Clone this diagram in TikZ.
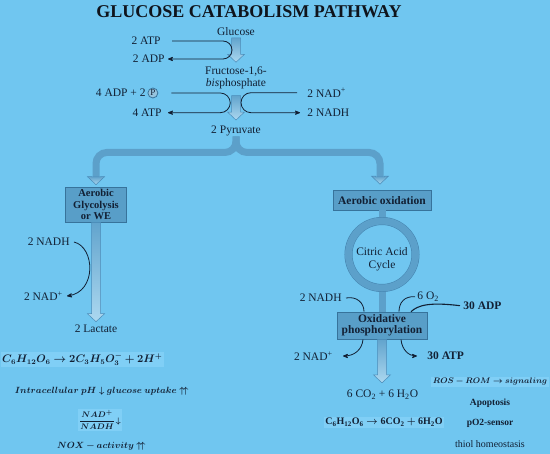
\documentclass[tikz,border=0pt]{standalone}
\usepackage{fontspec}
\setmainfont{Liberation Serif}
\usepackage{amsmath}
\usepackage{bm}
\usetikzlibrary{arrows,calc,positioning}

\definecolor{bgblue}{RGB}{112,198,240}
\definecolor{inkcol}{RGB}{18,32,52}
\definecolor{titlecol}{RGB}{15,20,28}
\definecolor{bandcol}{RGB}{92,160,202}
\definecolor{bandedge}{RGB}{68,132,175}
\definecolor{boxfill}{RGB}{88,158,200}
\definecolor{boxedge}{RGB}{55,115,155}
\definecolor{shafttop}{RGB}{98,164,205}
\definecolor{shaftbot}{RGB}{172,216,240}
\definecolor{shaftedge}{RGB}{75,140,185}
\definecolor{hlblue}{RGB}{128,207,246}
\definecolor{pfill}{RGB}{150,196,222}

\begin{document}
\begin{tikzpicture}[x=1pt,y=-1pt,>=stealth',thick,color=inkcol,node distance=20.7pt,
  lbl/.style={text=inkcol,inner sep=1pt,font=\fontsize{11.5}{13}\selectfont},
  procbox/.style={draw=boxedge,fill=boxfill,line width=0.8pt,text=inkcol,align=center,inner sep=1pt,
    font=\bfseries\fontsize{11.5}{11}\selectfont},
  pcirc/.style={circle,draw=boxedge,fill=pfill,inner sep=0.8pt,text=inkcol,font=\fontsize{9}{9}\selectfont},
  band/.style={draw=bandcol,line width=7pt},
  shaft/.style={draw=shaftedge,line width=0.5pt,top color=shafttop,bottom color=shaftbot,
    to path={let \p1=(\tikztostart),\p2=(\tikztotarget) in
      (\x1-4.5pt,\y1) -- (\x1-4.5pt,\y2+8pt) -- (\x1-8.5pt,\y2+8pt) -- (\x1,\y2)
      -- (\x1+8.5pt,\y2+8pt) -- (\x1+4.5pt,\y2+8pt) -- (\x1+4.5pt,\y1) -- cycle}},
  hl/.style={fill=hlblue,inner sep=1.5pt},
  ring/.style={circle,draw=bandedge,double=bandcol,double distance=7pt,line width=0.5pt,
    minimum size=67pt,outer sep=4pt}]

\useasboundingbox (0,0) rectangle (550,454);
\fill[bgblue] (0,0) rectangle (550,454);

\node[lbl,font=\bfseries\fontsize{18}{20}\selectfont,text=titlecol] (title) at (249,12) {GLUCOSE CATABOLISM PATHWAY};

% glycolysis
\node[lbl] (glc) at (236,31.5) {Glucose};
\node[lbl,anchor=east] (atpin) at (162,41) {2 ATP};
\node[lbl,anchor=east] (adpout) at (166,59) {2 ADP};
\node[lbl,align=center,font=\fontsize{11.5}{12.6}\selectfont] (fbp) at (236,78) {Fructose-1,6-\\\textit{bis}phosphate};
\node[lbl,anchor=east] (adpin) at (147,93) {4 ADP + 2};
\node[pcirc,right=0.5pt of adpin] (pgrp) {P};
\node[lbl,anchor=east] (atpout) at (163,112.7) {4 ATP};
\node[lbl,anchor=west] (nadin) at (306,92.7) {2 NAD\textsuperscript{+}};
\node[lbl,anchor=west] (nadhout) at (306,112.7) {2 NADH};
\node[lbl] (pyr) at (236,131) {2 Pyruvate};

\draw[shaft] ([yshift=-1pt]glc.south) to ([yshift=3pt]fbp.north);
\draw[shaft] ([yshift=-5pt]fbp.south) to ([yshift=4.5pt]pyr.north);

\draw[->,rounded corners=9pt] ([xshift=10pt]atpin.east) -- ++(60,0) |- ([xshift=2pt]adpout.east);
\draw[->,rounded corners=10pt] ([xshift=13pt]pgrp.east) -- ++(59,0) |- ([xshift=5pt]atpout.east);
\draw[->,rounded corners=10pt] ([xshift=-9pt]nadin.west) -- ++(-56,0) |- ([xshift=-6pt]nadhout.west);

% branches
\node[procbox,font=\bfseries\fontsize{10.5}{11.2}\selectfont,minimum width=61pt,minimum height=35pt] (glybox) at (96,204.6) {Aerobic\\Glycolysis\\or WE};
\node[procbox,minimum width=98pt,minimum height=19.5pt] (oxbox) at (382,200.3) {Aerobic oxidation};

\coordinate (forkL) at (96,177);
\coordinate (forkR) at (380,177);
\draw[band,rounded corners=11pt] ([yshift=1pt]pyr.south) -- ++(0,16) -| (forkL);
\draw[band,rounded corners=11pt] ([yshift=1pt]pyr.south) -- ++(0,16) -| (forkR);
\draw[shaft] (forkL) to ([yshift=2pt]glybox.north);
\draw[shaft] (forkR) to ([yshift=6pt]oxbox.north);

% anaerobic side
\node[lbl,anchor=east] (nadhL) at (71,242) {2 NADH};
\node[lbl,anchor=east] (nadL) at (64,296) {2 NAD\textsuperscript{+}};
\node[lbl] (lac) at (96,329) {2 Lactate};
\draw[shaft] (glybox.south) to ([yshift=2pt]lac.north);
\draw[->] ([xshift=3pt]nadhL.east) .. controls (95,247) and (97,292) .. ([xshift=3pt]nadL.east);

% aerobic side
\node[ring] (tca) at (382,254.5) {};
\node[lbl,align=center] (cac) at (382,259.5) {Citric Acid\\Cycle};
\node[procbox,minimum width=90pt,minimum height=27pt] (oxphos) at (382,325.6) {Oxidative\\phosphorylation};
\draw[band] (oxbox.south) -- (tca.north);
\draw[band] (tca.south) -- (oxphos.north);

\node[lbl,anchor=east] (nadhR) at (343,298) {2 NADH};
\node[lbl,anchor=west] (oxy) at (416,296.7) {6 O\textsubscript{2}};
\node[lbl,anchor=west] (adpR) at (462,305.7) {\bfseries 30 ADP};
\node[lbl,anchor=east] (nadR) at (334,356) {2 NAD\textsuperscript{+}};
\node[lbl,anchor=west] (atpR) at (426,356) {\bfseries 30 ATP};
\node[lbl] (co2) at (382.5,395) {6 CO\textsubscript{2} + 6 H\textsubscript{2}O};
\draw[shaft] (oxphos.south) to ([yshift=6pt]co2.north);

\draw ([xshift=3pt]nadhR.east) .. controls (357,296) and (364,303) .. ([xshift=-18pt]oxphos.north);
\draw ([xshift=-1pt]oxy.west) .. controls (404,296) and (399,303) .. ([xshift=17pt]oxphos.north);
\draw[line width=1.1pt] ([xshift=-2pt]adpR.west) .. controls (430,302) and (418,305) .. ([xshift=29pt]oxphos.north);
\draw[->] ([xshift=-19pt]oxphos.south) .. controls (362,350) and (354,356) .. ([xshift=9pt]nadR.east);
\draw[->] ([xshift=19pt]oxphos.south) .. controls (402,350) and (409,356) .. ([xshift=-9pt]atpR.west);

% equations and notes
\node[lbl,hl,font=\fontsize{10.5}{12}\selectfont] (eqL) at (82.3,359.3) {$\bm{C_6H_{12}O_6 \rightarrow 2C_3H_5O_3^{-} + 2H^{+}}$};
\node[lbl,font=\fontsize{9}{10}\selectfont] (phnote) at (101.7,391.7) {$\bm{Intracellular\ pH \downarrow glucose\ uptake \uparrow\!\uparrow}$};
\node[lbl,hl,font=\fontsize{8.5}{10}\selectfont] (ratio) at (100,420) {$\bm{\dfrac{NAD^{+}}{NADH}\!\downarrow}$};
\node[lbl,font=\fontsize{9}{10}\selectfont] (nox) at (101.3,446.7) {$\bm{NOX - activity \uparrow\!\uparrow}$};

\node[lbl,hl,font=\fontsize{10}{12}\selectfont] (eqR) at (384,422.3) {$\mathbf{C_6H_{12}O_6}\bm{\rightarrow}\mathbf{6CO_2}\bm{+}\mathbf{6H_2O}$};
\node[lbl,hl,anchor=east,font=\fontsize{8}{10}\selectfont] (ros) at (549,381.7) {$\bm{ROS - ROM \rightarrow signaling}$};
\node[lbl,font=\bfseries\fontsize{9.5}{11}\selectfont] (apo) at (490,403) {Apoptosis};
\node[lbl,font=\bfseries\fontsize{9.5}{11}\selectfont] (po2) [below of=apo] {pO2-sensor};
\node[lbl,font=\fontsize{10}{11}\selectfont] (thiol) [below of=po2] {thiol homeostasis};
\end{tikzpicture}
\end{document}
